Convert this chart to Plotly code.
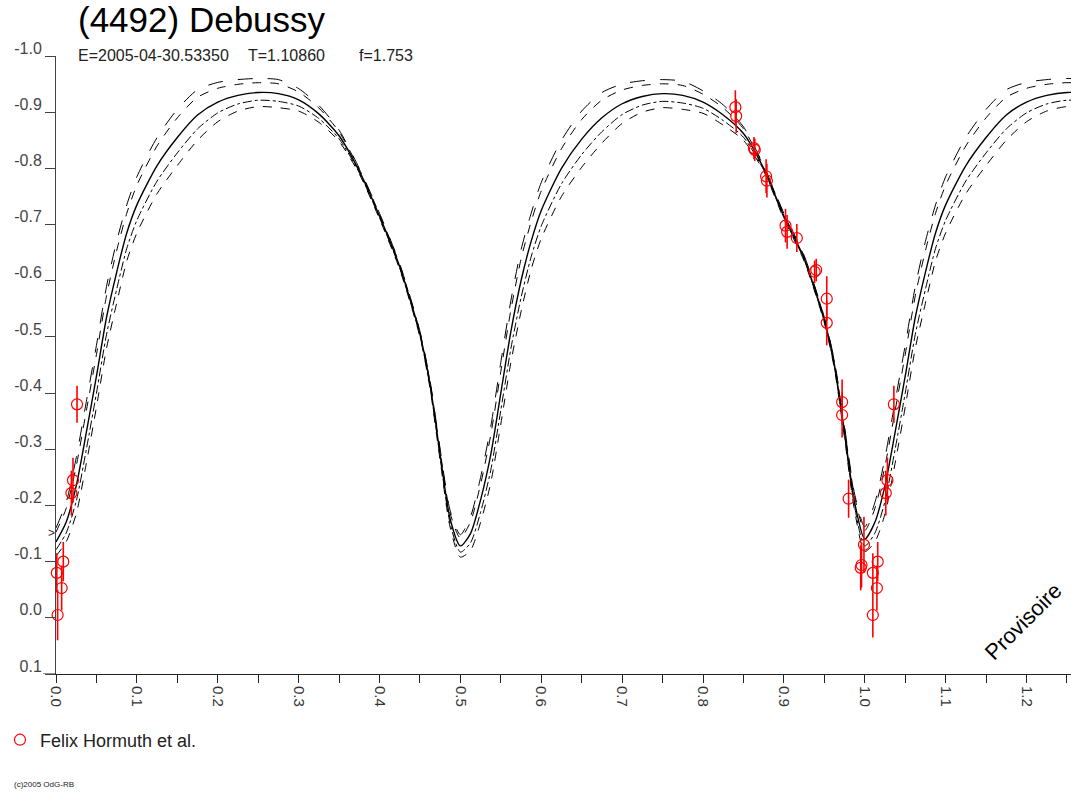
import numpy as np
import plotly.graph_objects as go

# ---------------- data ----------------
# model light curve (centre line), phase 0..1, repeated with period 1
CURVE_PHASE = [0.0, 0.0125, 0.025, 0.0375, 0.05, 0.0625, 0.075, 0.0875, 0.1, 0.125, 0.15,
               0.175, 0.2, 0.225, 0.25, 0.275, 0.3, 0.325, 0.35, 0.375, 0.4, 0.425, 0.45,
               0.4625, 0.475, 0.4875, 0.5, 0.5125, 0.525, 0.5375, 0.55, 0.5625, 0.575,
               0.5875, 0.6, 0.625, 0.65, 0.675, 0.7, 0.725, 0.75, 0.775, 0.8, 0.825, 0.85,
               0.875, 0.9, 0.925, 0.95, 0.9625, 0.975, 0.9875, 1.0]
CURVE_MAG = [-0.135, -0.17, -0.235, -0.33, -0.43, -0.535, -0.615, -0.685, -0.735, -0.805, -0.855,
             -0.895, -0.918, -0.930, -0.935, -0.933, -0.922, -0.897, -0.858, -0.795, -0.715, -0.625, -0.505,
             -0.415, -0.29, -0.175, -0.128, -0.15, -0.21, -0.29, -0.40, -0.51, -0.60,
             -0.67, -0.725, -0.80, -0.852, -0.89, -0.915, -0.928, -0.933, -0.930, -0.918, -0.895, -0.862,
             -0.80, -0.715, -0.64, -0.53, -0.45, -0.33, -0.205, -0.14]
# vertical half-width of the bundle of model curves
CURVE_SPREAD = [0.025, 0.035, 0.05, 0.055, 0.055, 0.055, 0.055, 0.05, 0.05, 0.05, 0.05,
                0.045, 0.035, 0.028, 0.025, 0.025, 0.02, 0.015, 0.01, 0.005, 0.005, 0.005, 0.005,
                0.007, 0.01, 0.015, 0.02, 0.03, 0.04, 0.05, 0.055, 0.055, 0.055,
                0.05, 0.05, 0.05, 0.05, 0.045, 0.035, 0.028, 0.025, 0.025, 0.02, 0.018, 0.012,
                0.005, 0.005, 0.005, 0.005, 0.007, 0.01, 0.015, 0.022]
CURVE_FACTORS = [-1.0, -0.7, 0.0, 0.55, 1.0]
CURVE_DASH = ["longdash", "dash", "solid", "dashdot", "dash"]

# observations (Felix Hormuth et al.)
OBS_PHASE = [0.840, 0.841, 0.863, 0.864, 0.878, 0.879, 0.902, 0.904, 0.916, 0.938, 0.940,
             0.953, 0.953, 0.972, 0.972, 0.980, 0.999, 0.996, 0.995, 1.010, 1.016, 1.015,
             1.010, 1.028, 1.026, 1.036,
             0.026, 0.021, 0.019, 0.009, 0.001, 0.007, 0.002]
OBS_MAG = [-0.909, -0.893, -0.836, -0.833, -0.786, -0.778, -0.698, -0.687, -0.676, -0.616, -0.619,
           -0.568, -0.525, -0.384, -0.361, -0.212, -0.130, -0.094, -0.089, -0.080, -0.100, -0.053,
           -0.005, -0.245, -0.222, -0.380,
           -0.380, -0.245, -0.222, -0.100, -0.080, -0.053, -0.005]
OBS_ERR = [0.03, 0.03, 0.02, 0.02, 0.03, 0.03, 0.03, 0.03, 0.025, 0.02, 0.02,
           0.04, 0.04, 0.04, 0.04, 0.034, 0.05, 0.04, 0.04, 0.035, 0.035, 0.04,
           0.04, 0.04, 0.04, 0.033,
           0.033, 0.04, 0.04, 0.035, 0.035, 0.04, 0.045]

X_TICKS = [0.0, 0.1, 0.2, 0.3, 0.4, 0.5, 0.6, 0.7, 0.8, 0.9, 1.0, 1.1, 1.2]
X_TICKTEXT = ["0.0", "0.1", "0.2", "0.3", "0.4", "0.5", "0.6", "0.7", "0.8", "0.9", "1.0", "1.1", "1.2"]
Y_TICKS = [-1.0, -0.9, -0.8, -0.7, -0.6, -0.5, -0.4, -0.3, -0.2, -0.1, 0.0, 0.1]
Y_TICKTEXT = ["-1.0", "-0.9", "-0.8", "-0.7", "-0.6", "-0.5", "-0.4", "-0.3", "-0.2", "-0.1", "0.0", "0.1"]

TITLE = "(4492) Debussy"
SUB_E = "E=2005-04-30.53350"
SUB_T = "T=1.10860"
SUB_F = "f=1.753"
LEGEND_NAME = "Felix Hormuth et al."
STAMP = "(c)2005 OdG-RB"
WATERMARK = "Provisoire"

X_MAX = 1.255
FONT = "Liberation Sans, Arial, sans-serif"

# ---------------- build ----------------
ph = np.array(CURVE_PHASE)
mg = np.array(CURVE_MAG)
sp = np.array(CURVE_SPREAD)
keep = (ph[1:] + 1.0) <= X_MAX + 0.05
full_ph = np.concatenate([ph, ph[1:][keep] + 1.0])
full_mg = np.concatenate([mg, mg[1:][keep]])
full_sp = np.concatenate([sp, sp[1:][keep]])

fig = go.Figure()
for fac, dash in zip(CURVE_FACTORS, CURVE_DASH):
    fig.add_trace(go.Scatter(
        x=full_ph, y=full_mg + fac * full_sp, mode="lines",
        line=dict(color="black", width=1.4 if dash == "solid" else 1.0, dash=dash,
                  shape="spline", smoothing=0.7),
        showlegend=False, hoverinfo="skip"))

fig.add_trace(go.Scatter(
    x=OBS_PHASE, y=OBS_MAG, mode="markers", name=LEGEND_NAME,
    marker=dict(symbol="circle-open", size=11, color="#ff0000", line=dict(width=1.2, color="#ff0000")),
    error_y=dict(type="data", array=OBS_ERR, visible=True, color="#ff0000", thickness=1.6, width=0),
    cliponaxis=False))

fig.update_xaxes(
    range=[0, X_MAX], tickmode="array", tickvals=X_TICKS, ticktext=X_TICKTEXT,
    tickangle=90, ticks="outside", ticklen=8, tickcolor="#222", tickwidth=1,
    minor=dict(dtick=0.05, tick0=0, ticks="outside", ticklen=8, tickcolor="#222", tickwidth=1),
    showline=True, linecolor="#222", linewidth=1, showgrid=False, zeroline=False,
    tickfont=dict(family=FONT, size=15, color="#333"))
fig.update_yaxes(
    range=[0.1, -1.0], tickmode="array", tickvals=Y_TICKS, ticktext=Y_TICKTEXT,
    ticks="outside", ticklen=10, tickcolor="#444", tickwidth=1,
    showline=True, linecolor="#444", linewidth=1, showgrid=False, zeroline=False,
    ticklabelshift=8,
    tickfont=dict(family=FONT, size=16, color="#444"))

annotations = [
    dict(text=TITLE, xref="paper", yref="paper", x=(76 - 56) / 1015, y=1 + (56 - 19) / 618,
         xanchor="left", yanchor="middle", showarrow=False,
         font=dict(family=FONT, size=35, color="black")),
    dict(text=SUB_E, xref="paper", yref="paper", x=(76 - 56) / 1015, y=1 + (56 - 55) / 618,
         xanchor="left", yanchor="middle", showarrow=False,
         font=dict(family=FONT, size=16, color="#222")),
    dict(text=SUB_T, xref="paper", yref="paper", x=(246 - 56) / 1015, y=1 + (56 - 55) / 618,
         xanchor="left", yanchor="middle", showarrow=False,
         font=dict(family=FONT, size=16, color="#222")),
    dict(text=SUB_F, xref="paper", yref="paper", x=(357 - 56) / 1015, y=1 + (56 - 55) / 618,
         xanchor="left", yanchor="middle", showarrow=False,
         font=dict(family=FONT, size=16, color="#222")),
    dict(text=STAMP, xref="paper", yref="paper", x=(12 - 56) / 1015, y=(674 - 784) / 618,
         xanchor="left", yanchor="middle", showarrow=False,
         font=dict(family=FONT, size=8, color="#222")),
    dict(text=WATERMARK, xref="paper", yref="paper", x=(1023 - 56) / 1015, y=(674 - 621) / 618,
         xanchor="center", yanchor="middle", showarrow=False, textangle=-45,
         font=dict(family=FONT, size=22, color="black")),
    dict(text=">", xref="paper", yref="paper", x=(51 - 56) / 1015, y=(674 - 533) / 618,
         xanchor="center", yanchor="middle", showarrow=False,
         font=dict(family=FONT, size=12, color="#333")),
]

fig.update_layout(
    width=1071, height=793, autosize=False,
    margin=dict(l=56, r=0, t=56, b=119, autoexpand=False),
    paper_bgcolor="white", plot_bgcolor="white",
    annotations=annotations,
    shapes=[dict(type="line", xref="paper", yref="y", x0=(43 - 56) / 1015, x1=0, y0=0.1, y1=0.1,
                 line=dict(color="#222", width=1))],
    showlegend=True,
    legend=dict(x=-56 / 1015, y=(674 - 740) / 618, xanchor="left", yanchor="middle",
                bgcolor="rgba(0,0,0,0)", font=dict(family=FONT, size=18, color="#222"),
                itemwidth=30),
    font=dict(family=FONT),
)

fig.write_html("out.html")
